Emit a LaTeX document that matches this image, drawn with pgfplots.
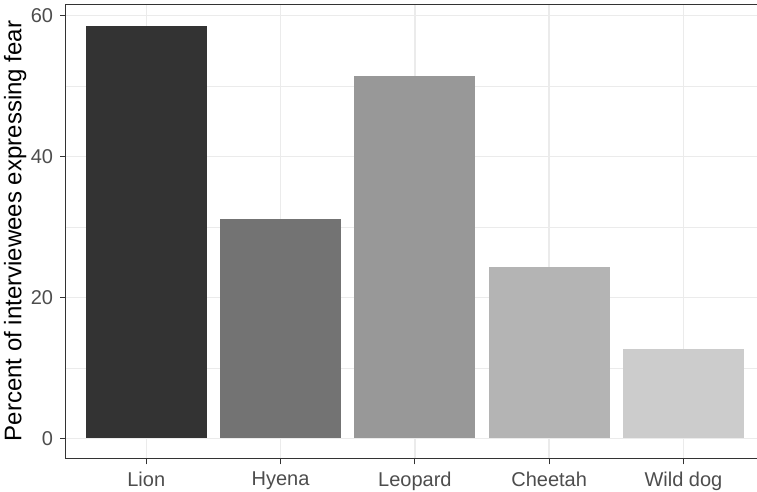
\documentclass[border=0pt]{standalone}
\usepackage{fontspec}
\setmainfont{Liberation Sans}
\usepackage{pgfplots}
\pgfplotsset{compat=1.18}
\usetikzlibrary{calc}
\definecolor{g20}{HTML}{333333}
\definecolor{g30}{HTML}{4D4D4D}
\definecolor{g92}{HTML}{EBEBEB}
\definecolor{cLion}{HTML}{333333}
\definecolor{cHyena}{HTML}{737373}
\definecolor{cLeopard}{HTML}{989898}
\definecolor{cCheetah}{HTML}{B4B4B4}
\definecolor{cWild}{HTML}{CCCCCC}
\begin{document}
\begin{tikzpicture}[x=1pt,y=1pt]
\begin{axis}[
  scale only axis,
  width=698.3pt, height=454pt,
  xmin=0.4, xmax=5.6, ymin=-2.93, ymax=61.53,
  xtick={1,2,3,4,5},
  xticklabels={Lion,Hyena,Leopard,Cheetah,Wild dog},
  ytick={0,20,40,60},
  minor ytick={10,30,50},
  minor xtick={},
  xmajorgrids, ymajorgrids, yminorgrids,
  major grid style={draw=g92, line width=1.4pt},
  minor grid style={draw=g92, line width=0.8pt},
  axis line style={draw=g20, line width=1pt},
  tick style={draw=g20, line width=1pt},
  major tick length=5.5pt,
  minor tick length=0pt,
  tick align=outside,
  xtick pos=bottom, ytick pos=left,
  /pgf/number format/assume math mode=true,
  ticklabel style={font=\fontsize{20}{24}\selectfont, text=g30, inner sep=0pt},
  xticklabel style={anchor=north, yshift=-7pt},
  yticklabel style={anchor=east, xshift=-7pt},
  every axis y label/.style={at={($(axis description cs:0,0.5)+(-50.5pt,1pt)$)}, rotate=90, anchor=center, font=\fontsize{24}{28}\selectfont, text=black},
  ylabel={Percent of interviewees expressing fear},
  axis on top=false,
]
\addplot[ybar, bar width=0.9, bar shift=0, fill=cLion, draw=none] coordinates {(1,58.6)};
\addplot[ybar, bar width=0.9, bar shift=0, fill=cHyena, draw=none] coordinates {(2,31.1)};
\addplot[ybar, bar width=0.9, bar shift=0, fill=cLeopard, draw=none] coordinates {(3,51.4)};
\addplot[ybar, bar width=0.9, bar shift=0, fill=cCheetah, draw=none] coordinates {(4,24.3)};
\addplot[ybar, bar width=0.9, bar shift=0, fill=cWild, draw=none] coordinates {(5,12.7)};
\coordinate (SW) at (rel axis cs:0,0);
\end{axis}
\pgfresetboundingbox
\path[use as bounding box] ($(SW)+(-65.7pt,-33pt)$) rectangle ($(SW)+(691.3pt,459pt)$);
\end{tikzpicture}
\end{document}
